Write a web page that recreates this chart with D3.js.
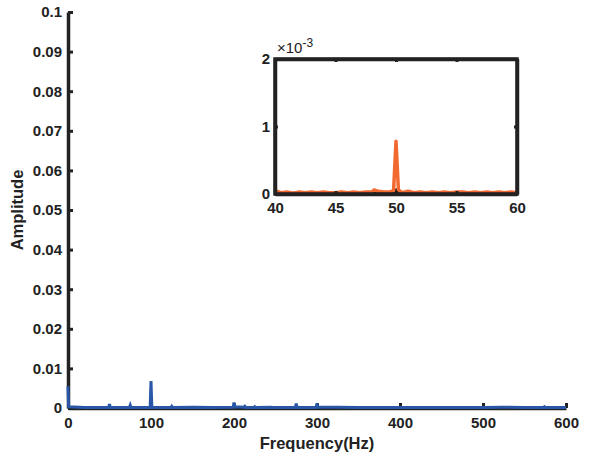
<!DOCTYPE html>
<html>
<head>
<meta charset="utf-8">
<script src="https://cdn.jsdelivr.net/npm/d3@7"></script>
<style>
  body { margin: 0; background: #fff; }
  svg { display: block; font-family: "Liberation Sans", Arial, sans-serif; }
</style>
</head>
<body>
<svg id="chart" width="590" height="459"></svg>
<script>
// main spectrum, frequency (Hz) and amplitude
var mainFreq = [0, 0.8, 20, 49, 50, 51, 74, 75, 76, 99, 100, 101, 124, 125, 126, 150, 175, 199, 200, 201,
  212, 213, 214, 224, 225, 226, 245, 247, 274, 275, 276, 299, 300, 301, 312, 325, 350, 375, 400,
  450, 500, 525, 550, 573, 574, 575, 600];
var mainAmp = [0.0055, 0.0003, 0.0001, 0.0001, 0.0010, 0.0001, 0.0001, 0.0007, 0.0001, 0.0001, 0.0068, 0.0001,
  0.0001, 0.0004, 0.0001, 0.0002, 0.0001, 0.0002, 0.0014, 0.0003,
  0.0002, 0.0004, 0.0001, 0.0001, 0.0003, 0.0001, 0.0002, 0.0001, 0.0001, 0.0011, 0.0001, 0.0001, 0.0012, 0.0002,
  0.0002, 0.0002, 0.0001, 0.0001, 0.0001, 0.0001, 0.0001, 0.0002, 0.0001, 0.0001, 0.0003, 0.0001, 0.0001];

// zoomed view 40-60 Hz
var zoomFreq = [40, 40.5, 41, 41.5, 42, 42.5, 43, 43.5, 44, 44.5, 45, 45.5, 46, 46.5, 47, 47.5, 48, 48.2, 48.5,
  49, 49.5, 49.8, 50, 50.2, 50.5, 51, 51.5, 52, 52.5, 53, 53.5, 54, 54.5, 55, 55.5, 56, 56.5, 57, 57.5, 58,
  58.5, 59, 59.5, 60];
var zoomAmpA = [0.00005, 0.00002, 0.00003, 0.00001, 0.00003, 0.00002, 0.00003, 0.00002, 0.00003, 0.00002,
  0.00002, 0.00003, 0.00002, 0.00003, 0.00002, 0.00003, 0.00003, 0.00006, 0.00004,
  0.00003, 0.00003, 0.00005, 0.00078, 0.00006, 0.00002, 0.00004, 0.00002, 0.00003, 0.00002, 0.00003, 0.00002,
  0.00003, 0.00002, 0.00003, 0.00003, 0.00002, 0.00003, 0.00002, 0.00003, 0.00002, 0.00003, 0.00002, 0.00003, 0.00002];
var zoomFreqB = [40, 49.7, 50, 50.3, 60];
var zoomAmpB = [0.00001, 0.00001, 0.00006, 0.00001, 0.00001];

var mainXTicks = [0, 100, 200, 300, 400, 500, 600];
var mainYTicks = [0, 0.01, 0.02, 0.03, 0.04, 0.05, 0.06, 0.07, 0.08, 0.09, 0.1];
var zoomXTicks = [40, 45, 50, 55, 60];
var zoomYTicks = [0, 0.001, 0.002];

var blue = "#2a56a8", orange = "#f1692f", ink = "#222";

var svg = d3.select("#chart");

// ----- main axes
var x = d3.scaleLinear().domain([0, 600]).range([68, 566]);
var y = d3.scaleLinear().domain([0, 0.1]).range([408, 12]);

var xAxis = d3.axisBottom(x).tickValues(mainXTicks).tickSizeInner(-5).tickSizeOuter(0).tickPadding(9);
var yAxis = d3.axisLeft(y).tickValues(mainYTicks).tickSizeInner(-5).tickSizeOuter(0).tickPadding(6)
  .tickFormat(d => d === 0 ? "0" : d3.format("")(+d.toFixed(2)));

function styleAxis(g, size) {
  g.select(".domain").attr("stroke", ink).attr("stroke-width", 3.5);
  g.selectAll(".tick line").attr("stroke", ink).attr("stroke-width", 3);
  g.selectAll(".tick text").attr("fill", ink).style("font-size", size + "px").style("font-weight", "bold");
}

svg.append("g").attr("transform", "translate(0,408)").call(xAxis).call(styleAxis, 15);
svg.append("g").attr("transform", "translate(68,0)").call(yAxis).call(styleAxis, 15);

var line = d3.line().x(d => x(d[0])).y(d => y(d[1]));
svg.append("path")
  .datum(mainFreq.map((f, i) => [f, mainAmp[i]]))
  .attr("d", line)
  .attr("fill", "none")
  .attr("stroke", blue)
  .attr("stroke-width", 3)
  .attr("stroke-linejoin", "miter");

svg.append("text")
  .attr("x", 317).attr("y", 449)
  .attr("text-anchor", "middle")
  .style("font-size", "16.5px").style("font-weight", "bold").attr("fill", ink)
  .text("Frequency(Hz)");

svg.append("text")
  .attr("transform", "translate(23,210) rotate(-90)")
  .attr("text-anchor", "middle")
  .style("font-size", "16.5px").style("font-weight", "bold").attr("fill", ink)
  .text("Amplitude");

// ----- inset
var ix = d3.scaleLinear().domain([40, 60]).range([275, 517]);
var iy = d3.scaleLinear().domain([0, 0.002]).range([194, 59]);

var inset = svg.append("g");
inset.append("rect")
  .attr("x", 275).attr("y", 59).attr("width", 242).attr("height", 135)
  .attr("fill", "#fff");

var ixAxis = d3.axisBottom(ix).tickValues(zoomXTicks).tickSizeInner(-3).tickSizeOuter(0).tickPadding(8);
var iyAxis = d3.axisLeft(iy).tickValues(zoomYTicks).tickSizeInner(-3).tickSizeOuter(0).tickPadding(5)
  .tickFormat(d => Math.round(d * 1000));
var ixTop = d3.axisTop(ix).tickValues(zoomXTicks).tickSizeInner(-3).tickSizeOuter(0).tickFormat("");
var iyRight = d3.axisRight(iy).tickValues(zoomYTicks).tickSizeInner(-3).tickSizeOuter(0).tickFormat("");

var iline = d3.line().x(d => ix(d[0])).y(d => iy(d[1]));
inset.append("path")
  .datum(zoomFreqB.map((f, i) => [f, zoomAmpB[i]]))
  .attr("d", iline)
  .attr("fill", "none").attr("stroke", "#111").attr("stroke-width", 3);
inset.append("path")
  .datum(zoomFreq.map((f, i) => [f, zoomAmpA[i]]))
  .attr("d", iline)
  .attr("fill", "none").attr("stroke", orange).attr("stroke-width", 3.5)
  .attr("stroke-linejoin", "round");

inset.append("g").attr("transform", "translate(0,194)").call(ixAxis).call(styleAxis, 15);
inset.append("g").attr("transform", "translate(275,0)").call(iyAxis).call(styleAxis, 15);
inset.append("g").attr("transform", "translate(0,59)").call(ixTop).call(styleAxis, 15);
inset.append("g").attr("transform", "translate(517,0)").call(iyRight).call(styleAxis, 15);
inset.append("rect")
  .attr("x", 275).attr("y", 59).attr("width", 242).attr("height", 135)
  .attr("fill", "none").attr("stroke", ink).attr("stroke-width", 3.5);

var expo = inset.append("text").attr("x", 277).attr("y", 53).attr("fill", ink).style("font-size", "15px");
expo.append("tspan").text("\u00d710");
expo.append("tspan").attr("dy", -6).style("font-size", "12px").text("-3");
</script>
</body>
</html>
